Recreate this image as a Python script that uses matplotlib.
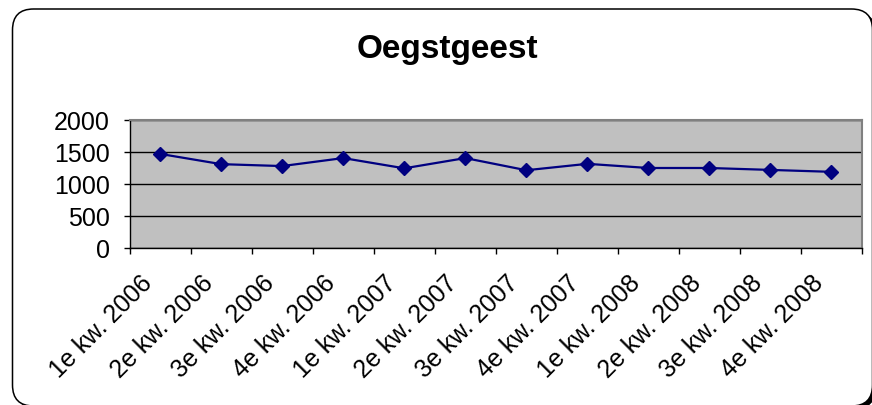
import matplotlib
matplotlib.use("Agg")
import matplotlib.pyplot as plt
from matplotlib.patches import FancyBboxPatch
from matplotlib.transforms import ScaledTranslation

plt.rcParams['font.family'] = ['Liberation Sans', 'DejaVu Sans']

# kwartalen en aantallen
quarters = ['1e kw. 2006', '2e kw. 2006', '3e kw. 2006', '4e kw. 2006',
            '1e kw. 2007', '2e kw. 2007', '3e kw. 2007', '4e kw. 2007',
            '1e kw. 2008', '2e kw. 2008', '3e kw. 2008', '4e kw. 2008']
values = [1470, 1310, 1280, 1405, 1245, 1405, 1215, 1315, 1250, 1250, 1220, 1190]
y_ticks = [0, 500, 1000, 1500, 2000]

fig = plt.figure(figsize=(8.72, 4.06), dpi=100)

# afgeronde rand om de grafiek (rechts en onder valt hij net buiten beeld)
shadow = FancyBboxPatch((0.16, -0.04), 8.60, 3.97,
                        boxstyle="round,pad=0,rounding_size=0.21",
                        transform=fig.dpi_scale_trans, facecolor='black',
                        edgecolor='none', zorder=-2)
fig.patches.append(shadow)
frame = FancyBboxPatch((0.125, -0.01), 8.60, 3.97,
                       boxstyle="round,pad=0,rounding_size=0.21",
                       transform=fig.dpi_scale_trans, facecolor='white',
                       edgecolor='black', linewidth=1.1, zorder=-1)
fig.patches.append(frame)

ax = fig.add_axes([0.1487, 0.3867, 0.8398, 0.3153])
ax.set_facecolor('#C0C0C0')

x = list(range(len(quarters)))
ax.plot(x, values, color='#000080', linewidth=1.6, marker='D',
        markersize=7, markerfacecolor='#000080', markeredgecolor='#000080',
        zorder=3)

ax.set_xlim(-0.5, len(quarters) - 0.5)
ax.set_ylim(0, 2000)
ax.set_yticks(y_ticks)
ax.set_yticklabels([str(v) for v in y_ticks])
ax.grid(axis='y', color='black', linewidth=1.0)
ax.set_axisbelow(True)

# labels in het midden, streepjes op de grenzen
ax.set_xticks(x)
ax.set_xticklabels(quarters, rotation=45, ha='right', va='center',
                   rotation_mode='anchor')
ax.set_xticks([i - 0.5 for i in range(len(quarters) + 1)], minor=True)
ax.tick_params(axis='x', which='major', length=0, pad=22, labelsize=18)
ax.tick_params(axis='x', which='minor', length=4.5, width=1.0, direction='out')
ax.tick_params(axis='y', length=4.5, width=1.0, pad=10, labelsize=18)

offset = ScaledTranslation(-0.12, 0, fig.dpi_scale_trans)
for lbl in ax.get_xticklabels():
    lbl.set_transform(lbl.get_transform() + offset)

for side in ['left', 'bottom']:
    ax.spines[side].set_color('black')
    ax.spines[side].set_linewidth(1.0)
for side in ['top', 'right']:
    ax.spines[side].set_color('#808080')
    ax.spines[side].set_linewidth(1.5)

fig.text(0.5126, 0.877, 'Oegstgeest', ha='center', va='center',
         fontsize=24, fontweight='bold')

fig.savefig('out.png', dpi=100)
